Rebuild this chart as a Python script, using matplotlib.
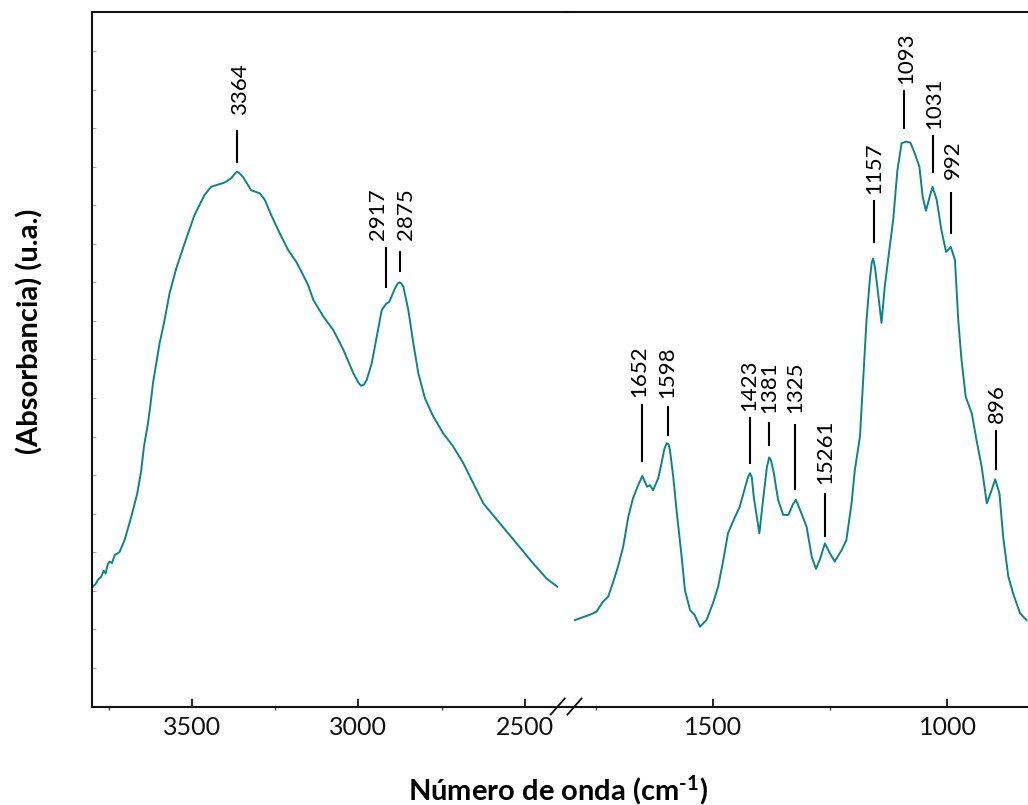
import matplotlib
matplotlib.use("Agg")
import matplotlib.pyplot as plt
from matplotlib.lines import Line2D
from matplotlib.ticker import MultipleLocator, FixedLocator, NullFormatter

plt.rcParams["font.family"] = ["Lato", "DejaVu Sans"]
plt.rcParams["mathtext.fontset"] = "custom"
plt.rcParams["mathtext.rm"] = "Lato:bold"
plt.rcParams["mathtext.bf"] = "Lato:bold"
plt.rcParams["mathtext.it"] = "Lato:italic"

# FTIR spectrum, high-wavenumber region (cm-1) and absorbance (a.u.)
wn_high = [3797, 3789, 3781, 3772, 3765, 3759, 3753, 3747, 3740, 3732, 3717,
           3702, 3682, 3664, 3652, 3644, 3632, 3624, 3617, 3607, 3597, 3584,
           3567, 3547, 3522, 3492, 3462, 3442, 3402, 3382, 3372, 3365, 3357,
           3347, 3322, 3296, 3281, 3262, 3236, 3211, 3187, 3166, 3151, 3135,
           3105, 3075, 3045, 3015, 3000, 2992, 2983, 2975, 2960, 2945, 2930,
           2917, 2907, 2890, 2882, 2877, 2871, 2865, 2850, 2835, 2820, 2800,
           2775, 2745, 2715, 2685, 2655, 2625, 2575, 2525, 2475, 2435, 2403]
abs_high = [0.311, 0.318, 0.330, 0.337, 0.352, 0.345, 0.368, 0.376, 0.372, 0.392, 0.401,
            0.432, 0.492, 0.553, 0.613, 0.674, 0.734, 0.786, 0.838, 0.890, 0.942, 0.994,
            1.072, 1.136, 1.201, 1.275, 1.327, 1.348, 1.359, 1.370, 1.381, 1.387, 1.383,
            1.374, 1.339, 1.331, 1.314, 1.275, 1.227, 1.184, 1.154, 1.119, 1.093, 1.054,
            1.011, 0.976, 0.925, 0.864, 0.840, 0.832, 0.835, 0.847, 0.890, 0.959, 1.028,
            1.044, 1.050, 1.085, 1.097, 1.100, 1.097, 1.089, 1.028, 0.942, 0.864, 0.799,
            0.752, 0.708, 0.674, 0.631, 0.579, 0.527, 0.475, 0.423, 0.371, 0.332, 0.311]

# FTIR spectrum, fingerprint region
wn_low = [1796, 1783, 1771, 1760, 1750, 1736, 1725, 1714, 1704, 1693, 1682,
          1672, 1661, 1652, 1642, 1636, 1629, 1618, 1611, 1605, 1600, 1596, 1593, 1586,
          1579, 1568, 1561, 1550, 1540, 1529, 1515, 1501, 1490, 1479, 1469,
          1454, 1444, 1433, 1426, 1422, 1418, 1414, 1402, 1394, 1386, 1381, 1377, 1371,
          1362, 1351, 1340, 1330, 1324, 1315, 1301, 1290, 1281, 1273, 1262, 1251,
          1241, 1226, 1216, 1205, 1198, 1187, 1181, 1173, 1166, 1162, 1159, 1155,
          1150, 1141, 1134, 1127, 1116, 1107, 1098, 1088, 1079, 1070, 1060, 1053,
          1046, 1038, 1032, 1023, 1013, 1003, 993, 984, 977, 970, 961, 948, 938,
          927, 916, 908, 898, 889, 881, 870, 860, 845, 831]
abs_low = [0.224, 0.230, 0.235, 0.240, 0.246, 0.272, 0.285, 0.324, 0.363, 0.414, 0.492,
           0.540, 0.574, 0.598, 0.570, 0.574, 0.561, 0.592, 0.631, 0.668, 0.683, 0.680, 0.665,
           0.596, 0.510, 0.388, 0.302, 0.250, 0.237, 0.207, 0.224, 0.268, 0.311, 0.380,
           0.449, 0.492, 0.518, 0.566, 0.596, 0.605, 0.594, 0.544, 0.449, 0.536, 0.620,
           0.646, 0.638, 0.605, 0.536, 0.497, 0.497, 0.525, 0.536, 0.510, 0.466, 0.388,
           0.357, 0.380, 0.423, 0.397, 0.376, 0.406, 0.432, 0.527, 0.613, 0.700, 0.829,
           1.002, 1.106, 1.150, 1.162, 1.140, 1.089, 0.995, 1.089, 1.158, 1.262, 1.391,
           1.461, 1.465, 1.462, 1.435, 1.400, 1.322, 1.286, 1.322, 1.348, 1.314, 1.236,
           1.179, 1.192, 1.158, 1.002, 0.899, 0.803, 0.760, 0.691, 0.622, 0.527, 0.553,
           0.589, 0.553, 0.440, 0.337, 0.294, 0.242, 0.224]

# Assigned bands
peak_labels = ["3364", "2917", "2875", "1652", "1598", "1423", "1381",
               "1325", "15261", "1157", "1093", "1031", "992", "896"]
peak_wn = [3364, 2917, 2875, 1652, 1598, 1423, 1381,
           1325, 1261, 1157, 1093, 1031, 992, 896]

ticks_high = [3500, 3000, 2500]
ticks_low = [1500, 1000]

# Placement of each band marker: (line bottom, line top, text bottom, text shift in px)
marker_layout = [(1.410, 1.495, 1.534, 3), (1.085, 1.192, 1.210, -8), (1.126, 1.181, 1.210, 6),
                 (0.635, 0.784, 0.803, -3), (0.701, 0.779, 0.800, 0), (0.629, 0.751, 0.766, 0),
                 (0.676, 0.739, 0.760, 0), (0.561, 0.733, 0.760, 0), (0.440, 0.554, 0.577, 0),
                 (1.203, 1.314, 1.329, 0), (1.498, 1.599, 1.614, 2), (1.384, 1.482, 1.498, 1),
                 (1.225, 1.335, 1.367, 2), (0.613, 0.717, 0.736, 1)]

W, H = 1028, 805
fig = plt.figure(figsize=(W / 100, H / 100), dpi=100)

left, split, right = 92, 567, 1030
bottom, top = 706.5, 12.5
ax1 = fig.add_axes([left / W, 1 - bottom / H, (split - left) / W, (bottom - top) / H])
ax2 = fig.add_axes([split / W, 1 - bottom / H, (right - split) / W, (bottom - top) / H])

teal = "#0a8585"
ax1.plot(wn_high, abs_high, color=teal, lw=1.4, solid_joinstyle="round")
ax2.plot(wn_low, abs_low, color=teal, lw=1.4, solid_joinstyle="round")

ax1.set_xlim(3800, 3800 - (split - left) * 500 / 166.5)
ax2.set_xlim(1813, 1813 - (right - split) * 500 / 234)
for ax in (ax1, ax2):
    ax.set_ylim(0, 1.8)
    for s in ("top", "bottom", "left"):
        ax.spines[s].set_linewidth(1.5)
        ax.spines[s].set_color("#111111")
    ax.spines["right"].set_visible(False)
    ax.xaxis.set_minor_locator(MultipleLocator(250))
    ax.xaxis.set_minor_formatter(NullFormatter())
    ax.tick_params(axis="x", which="major", direction="in", length=6, width=1.3,
                   labelsize=18, pad=7, colors="#111111")
    ax.tick_params(axis="x", which="minor", direction="out", length=2, width=1,
                   colors="#444444")
ax2.spines["left"].set_visible(False)

ax1.xaxis.set_major_locator(FixedLocator(ticks_high))
ax2.xaxis.set_major_locator(FixedLocator(ticks_low))

ax1.yaxis.set_major_locator(MultipleLocator(0.1))
ax1.tick_params(axis="y", which="major", direction="in", length=3, width=0.7,
                colors="#aaaaaa", labelleft=False)
ax2.tick_params(axis="y", which="both", left=False, labelleft=False)

for lab, wn, (y0, y1, yt, dx) in zip(peak_labels, peak_wn, marker_layout):
    ax = ax1 if wn > 2000 else ax2
    ax.plot([wn, wn], [y0, y1], color="black", lw=1.5, solid_capstyle="butt")
    ax.annotate(lab, xy=(wn, yt), xytext=(dx * 0.72, 0), textcoords="offset points",
                rotation=90, ha="center", va="bottom", fontsize=16, color="black")

# Axis break marks
for cx in (557.7, 574.5):
    fig.add_artist(Line2D([(cx - 7) / W, (cx + 7) / W],
                          [1 - 714.5 / H, 1 - 698.5 / H],
                          color="#111111", lw=1.3))

fig.text(558 / W, 1 - 790 / H, r"Número de onda (cm$^{\text{-}1}$)",
         ha="center", va="center", fontsize=21, fontweight="bold")
fig.text(30 / W, 1 - 331 / H, "(Absorbancia) (u.a.)", rotation=90,
         ha="center", va="center", fontsize=21, fontweight="bold")

fig.savefig("out.png", dpi=100)
